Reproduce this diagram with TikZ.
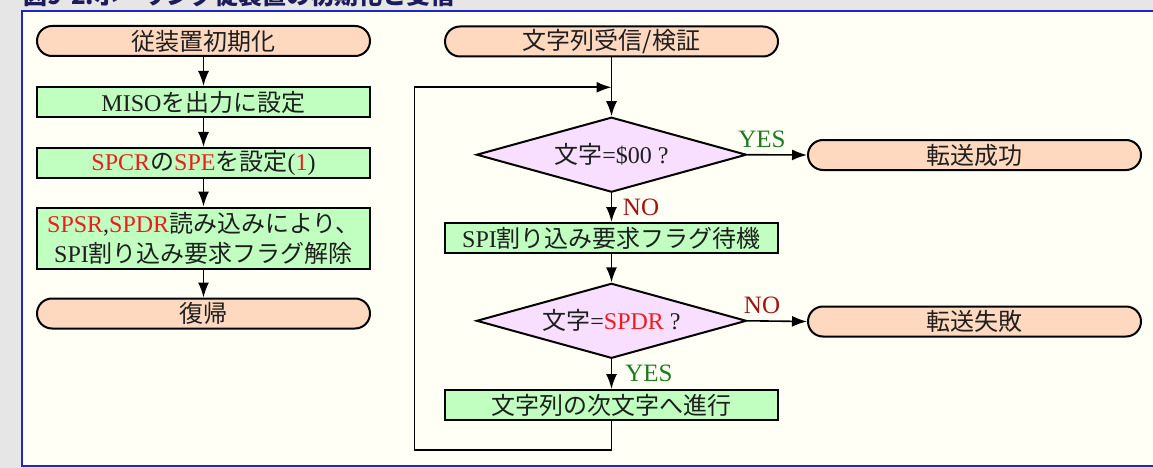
\documentclass[tikz,border=0pt]{standalone}
\usepackage{fontspec}
\setmainfont{Liberation Serif}
\newfontfamily\jp{Noto Sans CJK JP}
\usetikzlibrary{arrows.meta,shapes.geometric}
\definecolor{greybg}{HTML}{E6E6E6}
\definecolor{ivory}{HTML}{FFFFF5}
\definecolor{frameblue}{HTML}{2424C8}
\definecolor{titlenavy}{HTML}{1C1C5C}
\definecolor{peach}{HTML}{FFD9BF}
\definecolor{lgreen}{HTML}{C0FFC0}
\definecolor{lviolet}{HTML}{F8DEFF}
\definecolor{myred}{HTML}{EE1C1C}
\definecolor{yesgreen}{HTML}{1E7A1E}
\definecolor{nored}{HTML}{A01414}
\definecolor{ink}{HTML}{1E1E1E}
\newcommand\J[1]{{\jp #1}}
\newcommand\R[1]{\textcolor{myred}{#1}}
\tikzset{
  txt/.style={font=\fontsize{24}{30}\selectfont, text=ink},
  startbox/.style={txt, draw=black, line width=2pt, fill=peach, rounded corners=15pt,
    minimum width=333pt, minimum height=30pt, inner sep=0pt},
  procbox/.style={txt, draw=black, line width=2pt, fill=lgreen,
    minimum width=333pt, minimum height=30pt, inner sep=0pt, align=center},
  decbox/.style={txt, diamond, aspect=3.6, draw=black, line width=2pt, fill=lviolet,
    minimum width=270pt, minimum height=75pt, inner sep=0pt},
  conn/.style={line width=1.6pt, draw=black, -{Latex[length=15pt,width=11pt]}},
  plain/.style={line width=1.6pt, draw=black},
  yeslbl/.style={font=\fontsize{25}{28}\selectfont, text=yesgreen, inner sep=0pt},
  nolbl/.style={font=\fontsize{25}{28}\selectfont, text=nored, inner sep=0pt},
}
\begin{document}
\begin{tikzpicture}[x=1pt,y=-1pt]
\useasboundingbox (0,0) rectangle (1153,468);
\fill[greybg] (0,0) rectangle (1153,468);
\filldraw[fill=ivory, draw=frameblue, line width=2pt] (22,11.5) rectangle (1175,465.5);
\node[anchor=base west, inner sep=0pt, text=titlenavy, font=\jp\bfseries\fontsize{24}{28}\selectfont] (title) at (23,4.5) {図9-2.ポーリング従装置の初期化と受信};

% left column
\node[startbox] (n1) at (203.5,41) {\J{従装置初期化}};
\node[procbox] (n2) at (203.5,102) {MISO\J{を出力に設定}};
\node[procbox] (n3) at (203.5,163) {\R{SPCR}\J{の}\R{SPE}\J{を設定}(\R{1})};
\node[procbox, minimum height=61pt] (n4) at (203.5,238) {\R{SPSR},\R{SPDR}\J{読み込みにより、}\\SPI\J{割り込み要求フラグ解除}};
\node[startbox] (n5) at (203.5,313.5) {\J{復帰}};
\draw[conn] (n1) -- (n2);
\draw[conn] (n2) -- (n3);
\draw[conn] (n3) -- (n4);
\draw[conn] (n4) -- (n5);

% right column
\node[startbox] (r1) at (611.5,41.5) {\J{文字列受信/検証}};
\node[decbox] (d1) at (611.5,154.7) {\J{文字}=\$00 ?};
\node[startbox] (s1) at (974.5,155) {\J{転送成功}};
\node[procbox] (r2) at (611.5,238) {SPI\J{割り込み要求フラグ待機}};
\node[decbox] (d2) at (611.5,320.8) {\J{文字}=\R{SPDR} ?};
\node[startbox] (s2) at (974.5,321.5) {\J{転送失敗}};
\node[procbox] (r3) at (611.5,405) {\J{文字列の次文字へ進行}};

\coordinate (lb) at (414.3,450);
\coordinate (lt) at (414.3,87.3);
\coordinate (lj) at (611.5,87.3);

\draw[plain] (r1.south) -- (lj);
\draw[conn] (lj) -- (d1.north);
\draw[conn] (d1.east) -- (s1.west);
\draw[conn] (d1.south) -- (r2.north);
\draw[conn] (r2.south) -- (d2.north);
\draw[conn] (d2.east) -- (s2.west);
\draw[conn] (d2.south) -- (r3.north);
\draw[conn] (r3.south) |- (lb) -- (lt) -- (lj);

\node[yeslbl] (y1) at (762,139) {YES};
\node[nolbl] (no1) at (641,207) {NO};
\node[nolbl] (no2) at (762,305) {NO};
\node[yeslbl] (y2) at (649,373) {YES};
\end{tikzpicture}
\end{document}
